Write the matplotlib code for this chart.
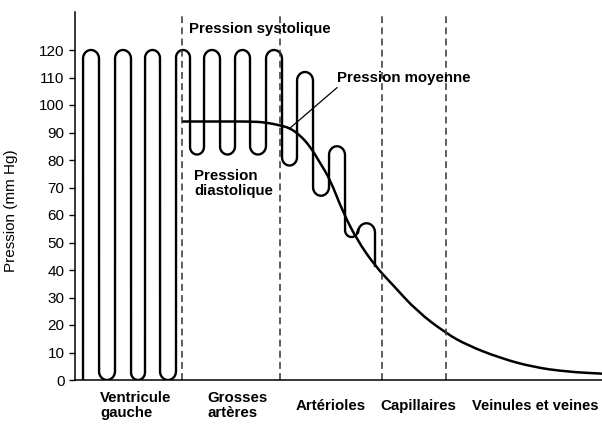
import numpy as np
import matplotlib
matplotlib.use("Agg")
import matplotlib.pyplot as plt
from matplotlib.path import Path
from matplotlib.patches import PathPatch

plt.rcParams['font.family'] = ['Liberation Sans', 'DejaVu Sans']

# position along the circulation (arbitrary units) and pressure (mm Hg)
# edges of the rounded turns of the pulsatile pressure trace
wave_edges = [8, 24, 40, 56, 70, 85, 101, 115, 129, 145, 160, 175, 191, 207, 222, 238, 254, 270, 283, 300]
wave_peaks = [120, 0, 120, 0, 120, 0, 120, 82, 120, 82, 120, 82, 120, 78, 112, 67, 85, 52, 57]
wave_start = 0
wave_end = 41.5

# mean pressure curve
mean_x = [107, 145, 180, 193, 205, 215, 225, 235, 245, 255, 268, 282, 300, 318, 342, 371, 392, 425, 458, 492, 527]
mean_v = [94, 94, 94, 93.5, 92.6, 91.6, 89, 85, 79, 73, 61, 51, 41.5, 34.5, 25, 17, 12.7, 8, 4.7, 3, 2.3]

# segment boundaries (dashed lines)
bounds = [107, 205, 307, 371]

regions = ['Ventricule\ngauche', 'Grosses\nartères', 'Artérioles', 'Capillaires', 'Veinules et veines']
region_x = [25, 132, 221, 305, 397]

yticks = list(range(0, 121, 10))

fig = plt.figure(figsize=(6.02, 4.25), dpi=100)
ax = fig.add_axes([75 / 602, 45 / 425, 527 / 602, 368.5 / 425])
ax.set_xlim(0, 527)
ax.set_ylim(0, 134)

# build the oscillating trace with rounded turns
px = [wave_edges[0]]
py = [wave_start]
aspect = 2.75  # pixels per mm Hg vs pixels per x unit
for i, v in enumerate(wave_peaks):
    x0, x1 = wave_edges[i], wave_edges[i + 1]
    cx = (x0 + x1) / 2
    rx = (x1 - x0) / 2
    ry = rx / aspect * 1.1
    if i % 2 == 0:
        t = np.linspace(np.pi, 0, 25)
        cy = v - ry
    else:
        t = np.linspace(np.pi, 2 * np.pi, 25)
        cy = v + ry
    px.extend(cx + rx * np.cos(t))
    py.extend(cy + ry * np.sin(t))
px.append(wave_edges[-1])
py.append(wave_end)
ax.plot(px, py, color='black', lw=1.7, solid_joinstyle='round')

# mean curve drawn as a smooth quadratic spline through the read points
pts = np.column_stack([mean_x, mean_v])
verts = [pts[0], (pts[0] + pts[1]) / 2]
codes = [Path.MOVETO, Path.LINETO]
for i in range(1, len(pts) - 1):
    verts += [pts[i], (pts[i] + pts[i + 1]) / 2]
    codes += [Path.CURVE3, Path.CURVE3]
verts.append(pts[-1])
codes.append(Path.LINETO)
ax.add_patch(PathPatch(Path(verts, codes), fill=False, edgecolor='black', lw=1.8))

for b in bounds:
    ax.plot([b, b], [0, 133], color='#333333', lw=1.1, linestyle=(0, (4.5, 2.8)))

# annotations
ax.plot([215, 262], [91.6, 106.3], color='black', lw=0.9)
ax.text(262, 109.8, 'Pression moyenne', fontsize=10.8, fontweight='bold', ha='left', va='center')
ax.text(114, 127.6, 'Pression systolique', fontsize=10.8, fontweight='bold', ha='left', va='center')
ax.text(119, 71.5, 'Pression\ndiastolique', fontsize=10.8, fontweight='bold', ha='left', va='center',
        linespacing=1.15)

for lab, x in zip(regions, region_x):
    ax.text(x, -9.3, lab, fontsize=10.5 if x == region_x[-1] else 10.8, fontweight='bold',
            ha='left', va='center', linespacing=1.1, clip_on=False)

ax.set_yticks(yticks)
ax.set_xticks([])
ax.tick_params(axis='y', labelsize=11, length=4, width=1)
ax.set_ylabel('Pression (mm Hg)', fontsize=11)
ax.yaxis.set_label_coords(-0.108, 0.46)
for s in ['top', 'right']:
    ax.spines[s].set_visible(False)
ax.spines['left'].set_linewidth(1.1)
ax.spines['bottom'].set_linewidth(1.1)

fig.savefig('out.png', dpi=100)
